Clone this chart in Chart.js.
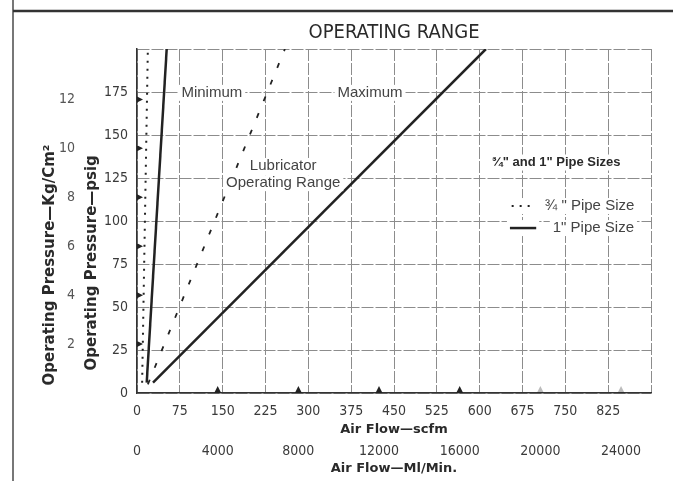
<!DOCTYPE html>
<html>
<head>
<meta charset="utf-8">
<script src="https://cdn.jsdelivr.net/npm/chart.js@4.4.1/dist/chart.umd.min.js"></script>
<style>
html,body{margin:0;padding:0;background:#fff;}
#wrap{position:relative;width:673px;height:481px;}
canvas{display:block;}
</style>
</head>
<body>
<div id="wrap"><canvas id="c" width="673" height="481"></canvas></div>
<script>
// ---- data (air flow in scfm, pressure in psig) ----
const flowMin34 = [9, 19];     // 3/4" pipe, minimum (dotted)
const psigMin34 = [6, 200];
const flowMin1  = [17, 52];    // 1" pipe, minimum (solid)
const psigMin1  = [6, 200];
const flowMax34 = [19, 259];   // 3/4" pipe, maximum (dashed)
const psigMax34 = [5, 200];
const flowMax1  = [28, 611];   // 1" pipe, maximum (solid)
const psigMax1  = [6, 200];

// ---- tick labels ----
const scfmTicks = [0, 75, 150, 225, 300, 375, 450, 525, 600, 675, 750, 825];
const mlTicks   = [0, 4000, 8000, 12000, 16000, 20000, 24000];
const psigTicks = [0, 25, 50, 75, 100, 125, 150, 175];
const kgTicks   = [2, 4, 6, 8, 10, 12];

const SCFM_TO_LMIN = 28.317;
const PSI_PER_KG = 14.223;

const zip = (xs, ys) => xs.map((x, i) => ({x: x, y: ys[i]}));

const NARROW = '"Liberation Sans Narrow","Arial Narrow","DejaVu Sans Condensed",Roboto,sans-serif';
const SANS = '"Liberation Sans",Arial,sans-serif';
const BOLD = '"DejaVu Sans",sans-serif';
const GRID = '#8c8c8c';
const INK = '#2a2a2a';

const notes = [
  {text: 'Minimum', x: 131, y: 174.5},
  {text: 'Maximum', x: 408, y: 174.5},
  {text: 'Lubricator', x: 256, y: 132},
  {text: 'Operating Range', x: 256, y: 122}
];

const pagePlugin = {
  id: 'page',
  beforeDraw(chart) {
    const ctx = chart.ctx;
    ctx.save();
    ctx.fillStyle = '#fff';
    ctx.fillRect(0, 0, chart.width, chart.height);
    // page frame
    ctx.strokeStyle = '#777';
    ctx.lineWidth = 2;
    ctx.beginPath(); ctx.moveTo(13, 0); ctx.lineTo(13, chart.height); ctx.stroke();
    ctx.strokeStyle = '#333';
    ctx.lineWidth = 2.5;
    ctx.beginPath(); ctx.moveTo(13, 11); ctx.lineTo(chart.width, 11); ctx.stroke();
    // title
    const ca = chart.chartArea;
    ctx.fillStyle = INK;
    ctx.font = '20px ' + NARROW;
    ctx.textAlign = 'center';
    ctx.textBaseline = 'middle';
    ctx.fillText('OPERATING RANGE', (ca.left + ca.right) / 2, 33);
    ctx.restore();
  },
  afterDatasetsDraw(chart) {
    const ctx = chart.ctx;
    const ca = chart.chartArea;
    const sx = chart.scales.x, sy = chart.scales.y;
    const y2 = chart.scales.y2, x2 = chart.scales.x2;
    const boxText = (text, px, py, font, color, align) => {
      ctx.font = font;
      const w = ctx.measureText(text).width;
      const left = align === 'left' ? px : px - w / 2;
      ctx.fillStyle = '#fff';
      ctx.fillRect(left - 3, py - 8, w + 6, 16);
      ctx.fillStyle = color;
      ctx.textAlign = 'left';
      ctx.textBaseline = 'middle';
      ctx.fillText(text, left, py);
    };
    ctx.save();
    notes.forEach(n => boxText(n.text, sx.getPixelForValue(n.x), sy.getPixelForValue(n.y), '15px ' + SANS, '#444', 'center'));
    // legend
    boxText('\u00BE" and 1" Pipe Sizes', sx.getPixelForValue(734), sy.getPixelForValue(134), 'bold 13px ' + SANS, INK, 'center');
    const rows = [
      {ds: chart.data.datasets[0], text: '\u00BE " Pipe Size', y: 108.7, x0: 656, x1: 697, tx: 714},
      {ds: chart.data.datasets[1], text: '1" Pipe Size', y: 95.9, x0: 653, x1: 699, tx: 728}
    ];
    rows.forEach(r => {
      const py = sy.getPixelForValue(r.y);
      const a = sx.getPixelForValue(r.x0), b = sx.getPixelForValue(r.x1);
      ctx.fillStyle = '#fff';
      ctx.fillRect(a - 3, py - 8, b - a + 6, 16);
      ctx.save();
      ctx.strokeStyle = r.ds.borderColor;
      ctx.lineWidth = r.ds.borderWidth;
      ctx.setLineDash(r.ds.borderDash || []);
      ctx.beginPath(); ctx.moveTo(a, py); ctx.lineTo(b, py); ctx.stroke();
      ctx.restore();
      boxText(r.text, sx.getPixelForValue(r.tx), py, '15px ' + SANS, '#444', 'left');
    });
    // tick markers for the secondary scales
    ctx.fillStyle = '#222';
    y2.ticks.forEach(t => {
      if (!kgTicks.includes(t.value)) return;
      const py = y2.getPixelForValue(t.value);
      ctx.beginPath();
      ctx.moveTo(ca.left, py - 3); ctx.lineTo(ca.left + 6, py); ctx.lineTo(ca.left, py + 3);
      ctx.closePath(); ctx.fill();
    });
    x2.ticks.forEach(t => {
      if (t.value === 0) return;
      const px = x2.getPixelForValue(t.value);
      ctx.globalAlpha = t.value > 16000 ? 0.3 : 1;
      ctx.beginPath();
      ctx.moveTo(px - 3.5, ca.bottom); ctx.lineTo(px, ca.bottom - 7); ctx.lineTo(px + 3.5, ca.bottom);
      ctx.closePath(); ctx.fill();
    });
    ctx.restore();
  }
};

const lineDs = (label, data, dash, width) => ({
  label: label,
  data: data,
  xAxisID: 'x',
  yAxisID: 'y',
  showLine: true,
  pointRadius: 0,
  pointHoverRadius: 0,
  borderColor: '#222',
  backgroundColor: '#222',
  borderWidth: width,
  borderDash: dash,
  fill: false,
  tension: 0
});

const tickFont = {family: NARROW, size: 14};

new Chart(document.getElementById('c'), {
  type: 'scatter',
  data: {
    datasets: [
      lineDs('\u00BE" Pipe Size \u2013 Minimum', zip(flowMin34, psigMin34), [2, 6], 2),
      lineDs('1" Pipe Size \u2013 Minimum', zip(flowMin1, psigMin1), [], 2.5),
      lineDs('\u00BE" Pipe Size \u2013 Maximum (Lubricator Operating Range)', zip(flowMax34, psigMax34), [5, 13], 1.8),
      lineDs('1" Pipe Size \u2013 Maximum', zip(flowMax1, psigMax1), [], 2.5)
    ]
  },
  options: {
    responsive: false,
    animation: false,
    devicePixelRatio: 1,
    layout: {padding: {left: 39, right: 22, top: 49, bottom: 5}},
    plugins: {legend: {display: false}, tooltip: {enabled: false}, title: {display: false}},
    scales: {
      x: {
        type: 'linear', position: 'bottom', weight: 0, min: 0, max: 900,
        ticks: {stepSize: 75, padding: 10, font: tickFont, color: '#3a3a3a', maxRotation: 0, autoSkip: false,
          callback: v => scfmTicks.includes(v) ? String(v) : ''},
        grid: {color: GRID, lineWidth: 1, drawTicks: false},
        border: {display: true, color: '#333', width: 1.5, dash: [12, 2]},
        title: {display: true, text: 'Air Flow\u2014scfm', color: INK,
          font: {family: BOLD, size: 13, weight: 'bold'}, padding: {top: 0, bottom: 0}},
        afterFit: s => { s.height = 44; }
      },
      x2: {
        type: 'linear', position: 'bottom', weight: 1, min: 0, max: 900 * SCFM_TO_LMIN,
        afterBuildTicks: s => { s.ticks = mlTicks.map(v => ({value: v})); },
        ticks: {padding: 6, font: tickFont, color: '#3a3a3a', maxRotation: 0, autoSkip: false,
          callback: v => String(v)},
        grid: {display: false, drawTicks: false},
        border: {display: false},
        title: {display: true, text: 'Air Flow\u2014Ml/Min.', color: INK,
          font: {family: BOLD, size: 13, weight: 'bold'}, padding: {top: 0, bottom: 0}},
        afterFit: s => { s.height = 39; }
      },
      y: {
        type: 'linear', position: 'left', weight: 0, min: 0, max: 200,
        ticks: {stepSize: 25, padding: 9, font: tickFont, color: '#3a3a3a',
          callback: v => psigTicks.includes(v) ? String(v) : ''},
        grid: {color: GRID, lineWidth: 1, drawTicks: false},
        border: {display: true, color: '#333', width: 1.5, dash: [12, 2]},
        title: {display: true, align: 'start', text: '\u2002\u2002\u2002Operating Pressure\u2014psig', color: INK,
          font: {family: BOLD, size: 15, weight: 'bold'}, padding: {top: 6, bottom: 0}},
        afterFit: s => { s.width = 60; }
      },
      y2: {
        type: 'linear', position: 'left', weight: 1, min: 0, max: 200 / PSI_PER_KG,
        afterBuildTicks: s => { s.ticks = kgTicks.map(v => ({value: v})); },
        ticks: {padding: 2, font: tickFont, color: '#555', callback: v => String(v)},
        grid: {display: false, drawTicks: false},
        border: {display: false},
        title: {display: true, align: 'start', text: '\u2002Operating Pressure\u2014Kg/Cm\u00B2', color: INK,
          font: {family: BOLD, size: 15, weight: 'bold'}, padding: {top: 2, bottom: 0}},
        afterFit: s => { s.width = 38; }
      }
    }
  },
  plugins: [pagePlugin]
});
</script>
</body>
</html>
